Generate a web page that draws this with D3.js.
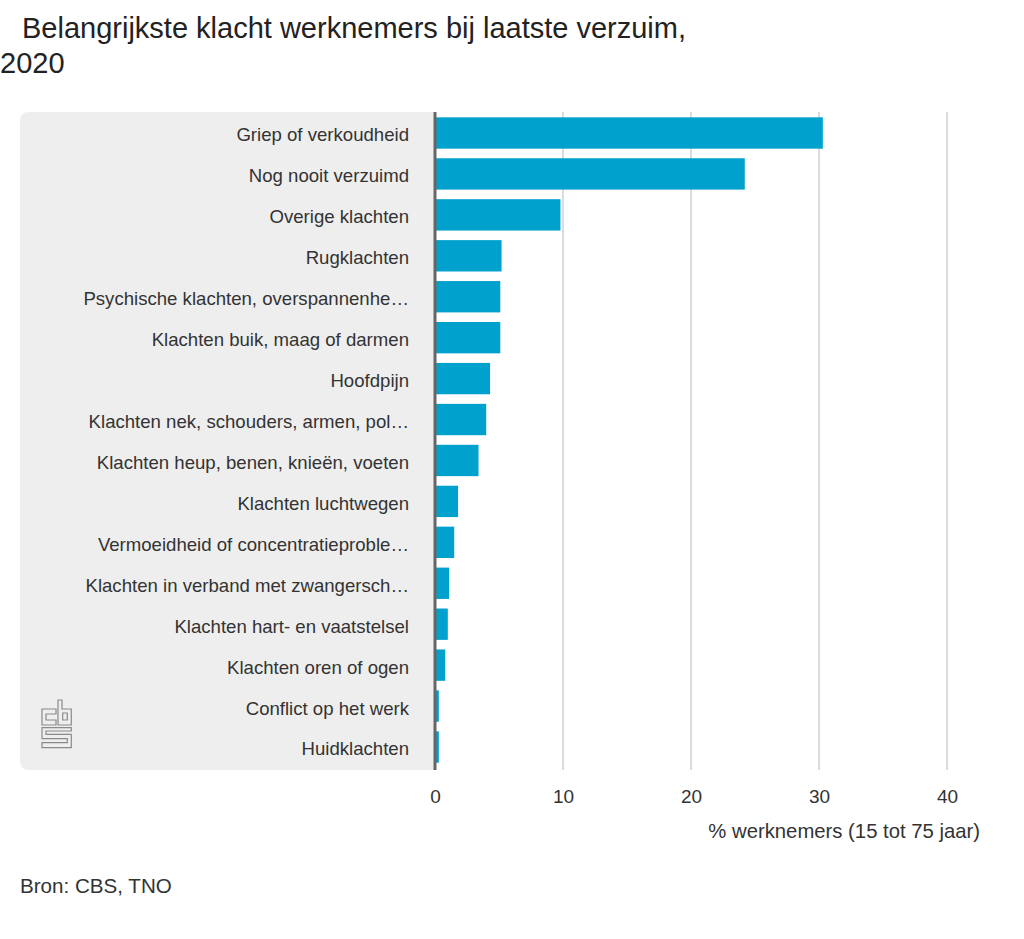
<!DOCTYPE html>
<html>
<head>
<meta charset="utf-8">
<script src="https://cdn.jsdelivr.net/npm/d3@7"></script>
<style>
  html, body { margin: 0; padding: 0; background: #fff; }
  svg { display: block; font-family: "Liberation Sans", Arial, sans-serif; }
</style>
</head>
<body>
<svg id="chart" width="1024" height="939"></svg>
<script>
const titleLines = ["Belangrijkste klacht werknemers bij laatste verzuim,", "2020"];
const categories = [
  "Griep of verkoudheid",
  "Nog nooit verzuimd",
  "Overige klachten",
  "Rugklachten",
  "Psychische klachten, overspannenhe…",
  "Klachten buik, maag of darmen",
  "Hoofdpijn",
  "Klachten nek, schouders, armen, pol…",
  "Klachten heup, benen, knieën, voeten",
  "Klachten luchtwegen",
  "Vermoeidheid of concentratieproble…",
  "Klachten in verband met zwangersch…",
  "Klachten hart- en vaatstelsel",
  "Klachten oren of ogen",
  "Conflict op het werk",
  "Huidklachten"
];
const values = [30.3, 24.2, 9.8, 5.2, 5.1, 5.1, 4.3, 4.0, 3.4, 1.8, 1.5, 1.1, 1.0, 0.8, 0.3, 0.3];
const tickValues = [0, 10, 20, 30, 40];
const axisTitle = "% werknemers (15 tot 75 jaar)";
const sourceText = "Bron: CBS, TNO";

const svg = d3.select("#chart");

const x = d3.scaleLinear().domain([0, 40]).range([435, 947]);
const y = d3.scaleBand().domain(categories).range([112, 768]).paddingInner(0.234).paddingOuter(0.13);

// Title
const titleX = [22, 0];
svg.append("text")
  .attr("y", 38)
  .attr("font-size", 29).attr("fill", "#222")
  .selectAll("tspan").data(titleLines).join("tspan")
  .attr("x", (d, i) => titleX[i]).attr("dy", (d, i) => i === 0 ? 0 : 35)
  .text(d => d);

// Gray label panel with rounded left corners
const pL = 20, pT = 112, pR = 435, pB = 770, r = 9;
svg.append("path")
  .attr("d", `M${pR},${pT} H${pL + r} Q${pL},${pT} ${pL},${pT + r} V${pB - r} Q${pL},${pB} ${pL + r},${pB} H${pR} Z`)
  .attr("fill", "#eeeeee");

// Gridlines
svg.append("g").selectAll("line").data(tickValues.filter(d => d > 0)).join("line")
  .attr("x1", d => x(d)).attr("x2", d => x(d))
  .attr("y1", 112).attr("y2", 770)
  .attr("stroke", "#dcdcdc").attr("stroke-width", 2);

// Bars
svg.append("g").selectAll("rect").data(values).join("rect")
  .attr("x", x(0))
  .attr("y", (d, i) => y(categories[i]))
  .attr("width", d => x(d) - x(0))
  .attr("height", y.bandwidth())
  .attr("fill", "#00a1cd");

// Zero axis line
svg.append("line")
  .attr("x1", x(0)).attr("x2", x(0)).attr("y1", 112).attr("y2", 770)
  .attr("stroke", "#666").attr("stroke-width", 3);

// Category labels (y axis)
const yAxis = d3.axisLeft(y).tickSize(0).tickPadding(26);
const yg = svg.append("g").attr("transform", `translate(${x(0)},2.5)`).call(yAxis);
yg.select(".domain").remove();
yg.selectAll("text").attr("font-size", 18.6).attr("fill", "#333").attr("font-family", "Liberation Sans, Arial, sans-serif");

// X tick labels
const xAxis = d3.axisBottom(x).tickValues(tickValues).tickSize(0).tickPadding(0).tickFormat(d3.format("d"));
const xg = svg.append("g").attr("transform", `translate(0,789)`).call(xAxis);
xg.select(".domain").remove();
xg.selectAll("text").attr("font-size", 19).attr("fill", "#333").attr("font-family", "Liberation Sans, Arial, sans-serif")
  .attr("dy", "0.71em");

// Axis title
svg.append("text")
  .attr("x", 980).attr("y", 838)
  .attr("text-anchor", "end")
  .attr("font-size", 20.3).attr("fill", "#333")
  .text(axisTitle);

// Source
svg.append("text")
  .attr("x", 20).attr("y", 893)
  .attr("font-size", 20.6).attr("fill", "#333")
  .text(sourceText);

// CBS logo (outline)
const logo = svg.append("g").attr("transform", "translate(42,700)")
  .attr("fill", "none").attr("stroke", "#8a8a8a").attr("stroke-width", 1.2);
logo.append("path").attr("d", "M0,9 H14 V14 H4 V20 H14 V25 H0 Z");
logo.append("path").attr("d", "M16,0 H20 V9 H29.3 V25 H16 Z");
logo.append("path").attr("d", "M20.7,13 H25.3 V20 H20.7 Z");
logo.append("path").attr("d", "M0,27.7 H29.3 V31 H4 V34.3 H29.3 V47.7 H0 V42.7 H25.3 V38.7 H0 Z");
</script>
</body>
</html>
